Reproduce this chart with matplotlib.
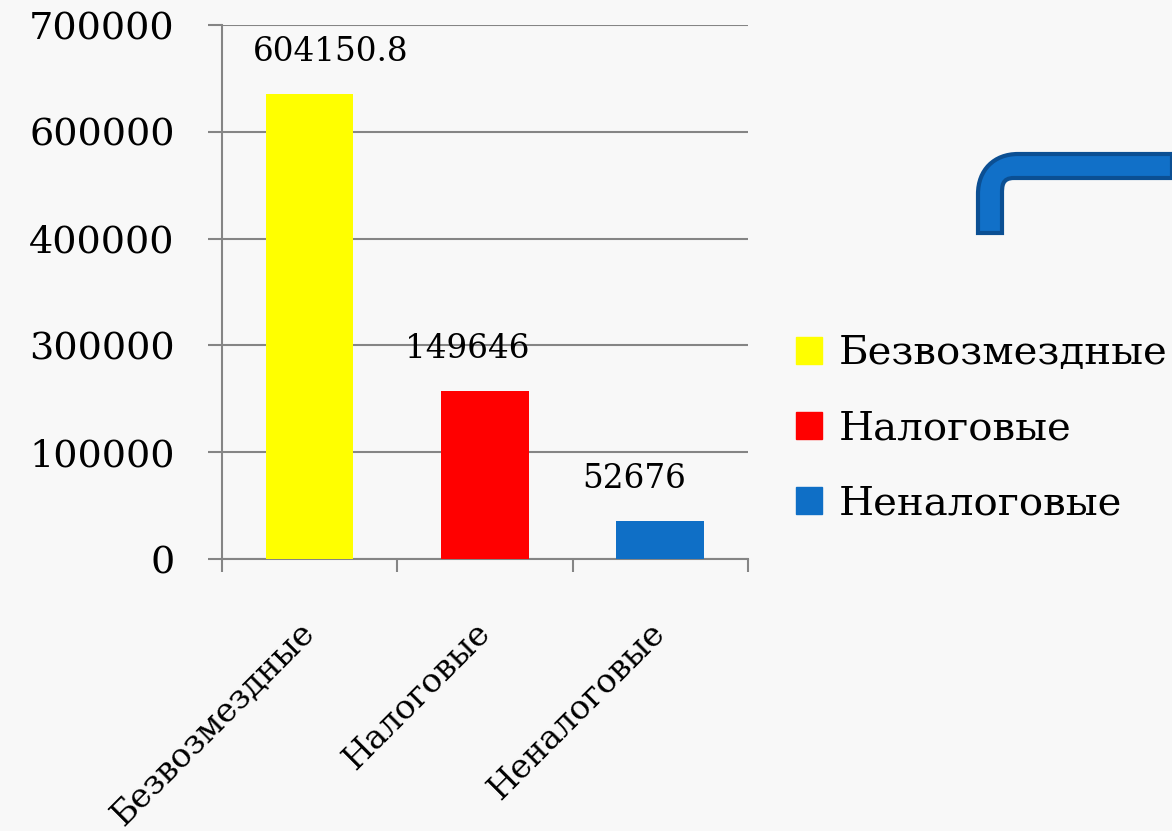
import matplotlib
matplotlib.use("Agg")

import matplotlib.pyplot as plt
import matplotlib.patches as mpatches
from matplotlib.path import Path

# данные
categories = ["Безвозмездные", "Налоговые", "Неналоговые"]
bar_heights = [609500, 220200, 49800]          # высота столбцов
value_labels = ["604150.8", "149646", "52676"]  # подписи данных как на слайде
colors = ["#ffff00", "#ff0000", "#0f6fc6"]
ytick_pos = [0, 140000, 280000, 420000, 560000, 700000]
ytick_labels = ["0", "100000", "300000", "400000", "600000", "700000"]

plt.rcParams["font.family"] = ["DejaVu Serif"]

BG = "#f8f8f8"
GRID = "#858585"

fig = plt.figure(figsize=(11.72, 8.31), dpi=100, facecolor=BG)
ax = fig.add_axes([222 / 1172, 1 - 559 / 831, (748 - 222) / 1172, (559 - 25) / 831])
ax.set_facecolor("none")

x = list(range(len(categories)))
ax.bar(x, bar_heights, width=0.5, color=colors, zorder=3)

# подписи над столбцами
label_dx = [0.12, -0.1, -0.15]
for xi, h, txt, dx in zip(x, bar_heights, value_labels, label_dx):
    ax.annotate(txt, (xi + dx, h), xytext=(0, 30), textcoords="offset points",
                ha="center", va="center", fontsize=23.5, color="black")

ax.set_xlim(-0.5, 2.5)
ax.set_ylim(0, 700000)
ax.set_yticks(ytick_pos)
ax.set_yticklabels(ytick_labels, fontsize=27.5)
ax.set_xticks([-0.5, 0.5, 1.5, 2.5])
ax.set_xticklabels([])
ax.set_xticks(x, minor=True)
ax.set_xticklabels(categories, minor=True, rotation=45, ha="right", va="center",
                   rotation_mode="anchor", fontsize=24)
ax.tick_params(axis="x", which="minor", length=0, pad=50)
ax.tick_params(axis="x", which="major", length=9, width=1.5, color=GRID, direction="out")
ax.tick_params(axis="y", length=10, width=1.5, color=GRID, direction="out", pad=24)

ax.grid(True, axis="y", color=GRID, linewidth=1.5, zorder=1)
for spine in ["top", "right"]:
    ax.spines[spine].set_visible(False)
for spine in ["left", "bottom"]:
    ax.spines[spine].set_color(GRID)
    ax.spines[spine].set_linewidth(1.5)

# легенда
handles = [mpatches.Patch(color=c, label=lab) for c, lab in zip(colors, categories)]
leg = fig.legend(handles=handles, loc="center left", bbox_to_anchor=(796 / 1172, 1 - 429 / 831),
                 frameon=False, fontsize=29, handlelength=0.65, handleheight=0.65,
                 handletextpad=0.4, labelspacing=0.95, borderaxespad=0, borderpad=0)

# декоративная синяя скоба справа
W, H = 1172, 831
def px(xp, yp):
    return (xp / W, 1 - yp / H)

verts = [px(978, 233), px(978, 194), px(978, 170), px(994, 154), px(1018, 154),
         px(1172, 154), px(1172, 178), px(1014, 178), px(1002, 178), px(1002, 186),
         px(1002, 194), px(1002, 233), px(978, 233)]
codes = [Path.MOVETO, Path.LINETO, Path.CURVE4, Path.CURVE4, Path.CURVE4,
         Path.LINETO, Path.LINETO, Path.LINETO, Path.CURVE4, Path.CURVE4, Path.CURVE4,
         Path.LINETO, Path.CLOSEPOLY]
bracket = mpatches.PathPatch(Path(verts, codes), facecolor="#1170c8", edgecolor="#0b4f93",
                             linewidth=3, transform=fig.transFigure, clip_on=False)
fig.patches.append(bracket)

plt.savefig("out.png", dpi=100, facecolor=BG)
plt.close(fig)
